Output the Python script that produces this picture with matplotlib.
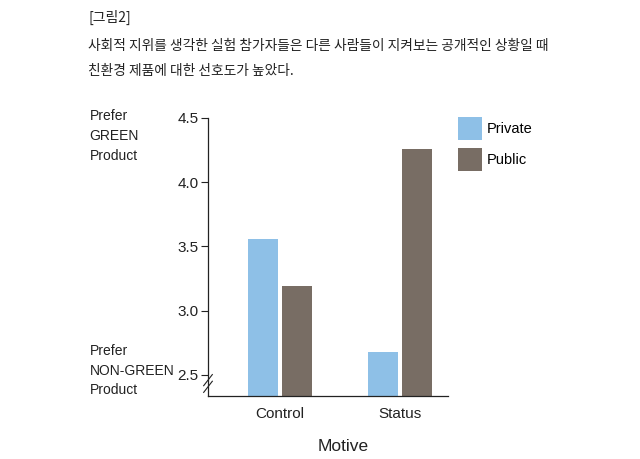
import matplotlib
matplotlib.use('Agg')
import matplotlib.pyplot as plt
import numpy as np

PRIVATE = '#8ec0e7'
PUBLIC = '#786d64'
INK = '#222222'

motives = ['Control', 'Status']
private_vals = [3.56, 2.68]
public_vals = [3.19, 4.26]
yticks = [2.5, 3.0, 3.5, 4.0, 4.5]

plt.rcParams['font.family'] = ['Liberation Sans', 'Noto Sans CJK KR']

fig = plt.figure(figsize=(6.4, 4.59), dpi=100)
ax = fig.add_axes([0.325, 0.1373, 0.375, 0.6057])

x = np.arange(len(motives))
w = 0.25
ax.bar(x - 0.145, private_vals, w, color=PRIVATE, label='Private')
ax.bar(x + 0.145, public_vals, w, color=PUBLIC, label='Public')

ax.set_xlim(-0.6, 1.4)
ax.set_ylim(2.336, 4.5)
ax.set_yticks(yticks)
ax.set_yticklabels([f'{v:.1f}' for v in yticks])
ax.set_xticks(x)
ax.set_xticklabels(motives)
ax.tick_params(axis='y', length=5, width=0.8, colors=INK, labelsize=11, pad=2)
ax.tick_params(axis='x', length=0, colors=INK, labelsize=11, pad=8)
for s in ['top', 'right']:
    ax.spines[s].set_visible(False)
for s in ['left', 'bottom']:
    ax.spines[s].set_linewidth(0.9)
    ax.spines[s].set_color(INK)
ax.set_xlabel('Motive', fontsize=12.5, color=INK)
ax.xaxis.set_label_coords(0.5625, -0.155)

# axis break marks
for dy in (-0.012, 0.012):
    ax.plot([-0.018, 0.018], [0.045 + dy - 0.02, 0.045 + dy + 0.02],
            transform=ax.transAxes, color=INK, lw=0.8, clip_on=False)

ax.legend(loc='upper left', bbox_to_anchor=(0.985, 1.05), frameon=False,
          fontsize=10.5, handlelength=1.7, handleheight=2.0,
          handletextpad=0.3, labelspacing=0.6)

fig.text(0.138, 0.963, '[그림2]', fontsize=10, color=INK,
         family=['Noto Sans CJK KR'], va='center')
fig.text(0.138, 0.9, '사회적 지위를 생각한 실험 참가자들은 다른 사람들이 지켜보는 공개적인 상황일 때',
         fontsize=9.9, color=INK, family=['Noto Sans CJK KR'], weight='medium',
         va='center')
fig.text(0.138, 0.845, '친환경 제품에 대한 선호도가 높았다.',
         fontsize=9.9, color=INK, family=['Noto Sans CJK KR'], weight='medium',
         va='center')

fig.text(0.14, 0.762, 'Prefer\nGREEN\nProduct', fontsize=10, color=INK,
         va='top', linespacing=1.55)
fig.text(0.14, 0.25, 'Prefer\nNON-GREEN\nProduct', fontsize=10, color=INK,
         va='top', linespacing=1.5)

fig.savefig('out.png', dpi=100)
